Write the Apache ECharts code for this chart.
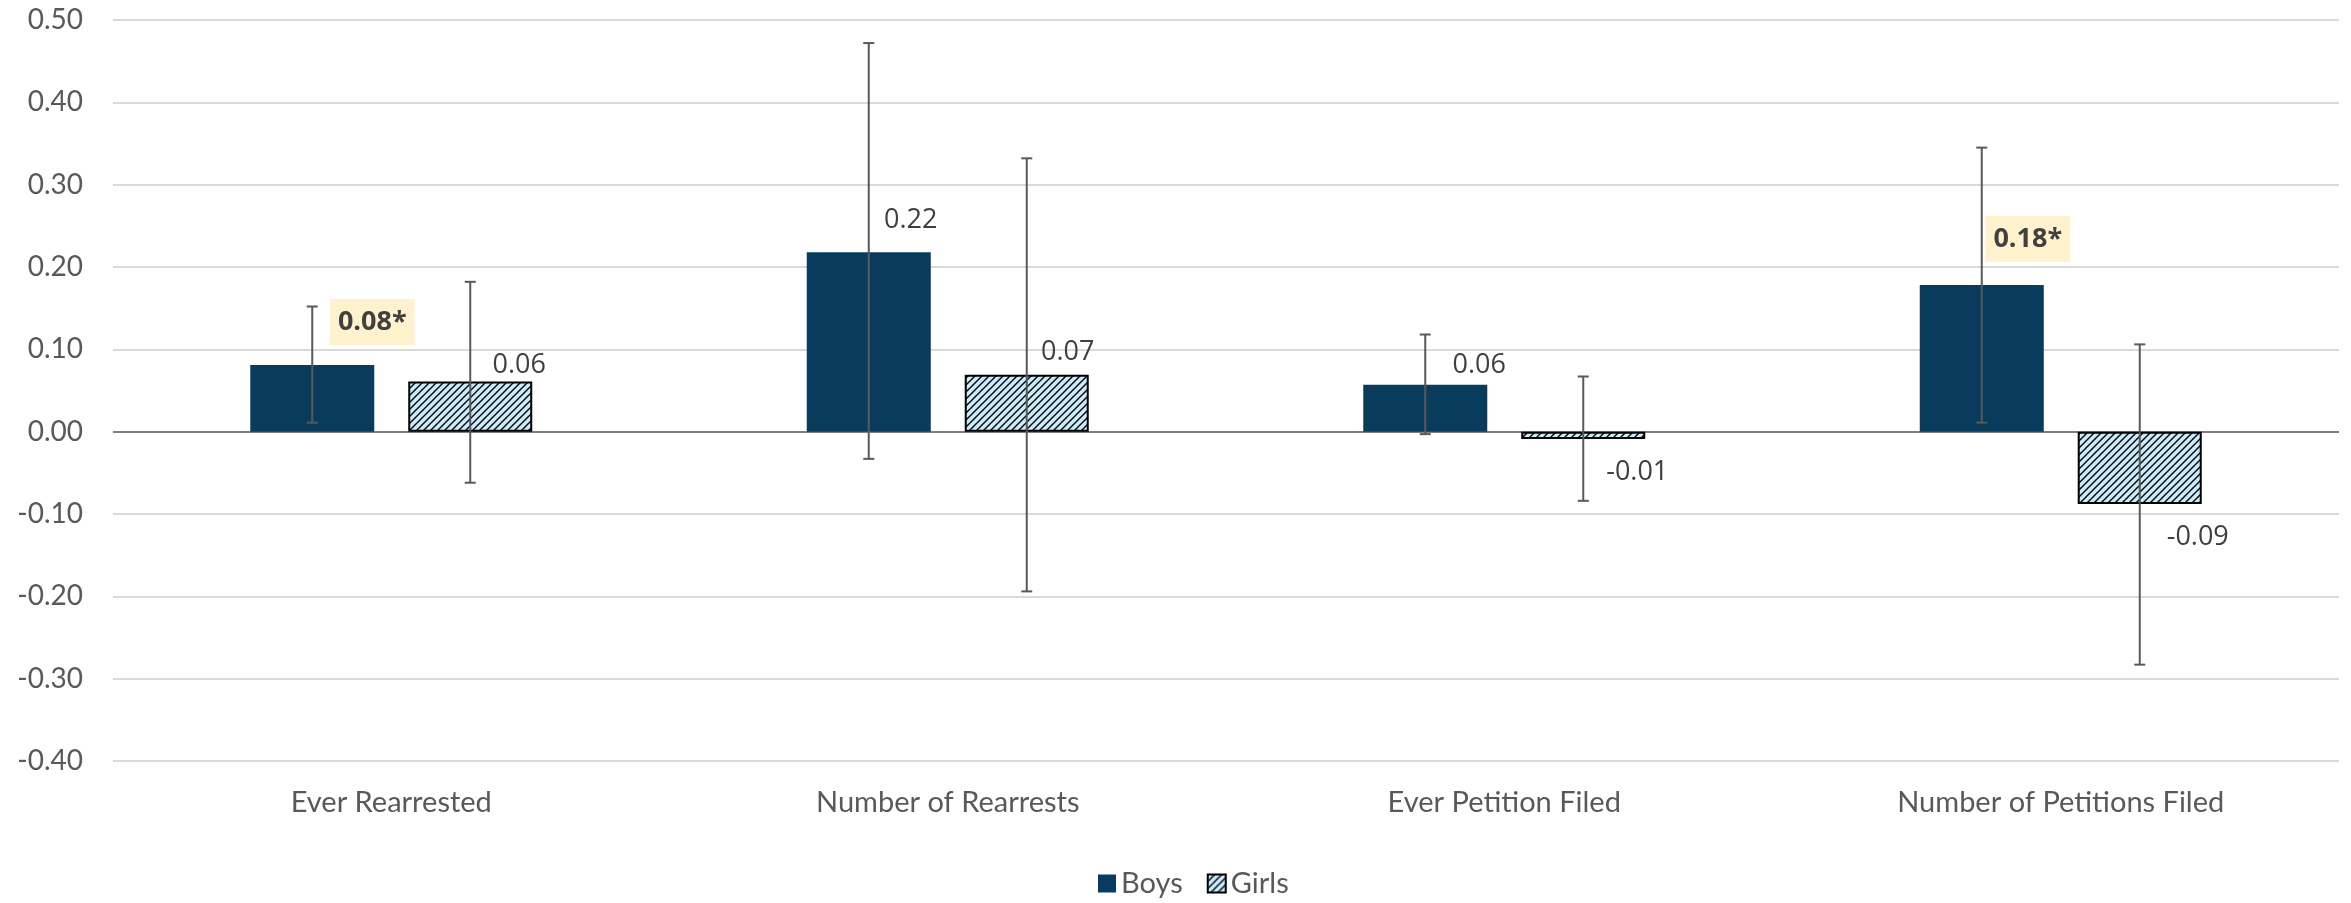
<!DOCTYPE html>
<html>
<head>
<meta charset="utf-8">
<script src="https://cdn.jsdelivr.net/npm/echarts@6/dist/echarts.min.js"></script>
<style>
html,body{margin:0;padding:0;background:#fff;}
#chart{width:2351px;height:903px;}
</style>
</head>
<body>
<div id="chart"></div>
<script>
// ---- data ----
const categories = ['Ever Rearrested', 'Number of Rearrests', 'Ever Petition Filed', 'Number of Petitions Filed'];
const seriesNames = ['Boys', 'Girls'];
const boysValues = [0.081, 0.218, 0.057, 0.178];
const girlsValues = [0.061, 0.069, -0.009, -0.088];
const boysLabels = ['0.08*', '0.22', '0.06', '0.18*'];
const girlsLabels = ['0.06', '0.07', '-0.01', '-0.09'];
const boysSignificant = [true, false, false, true];
const boysHigh = [0.152, 0.472, 0.118, 0.345];
const boysLow = [0.011, -0.033, -0.003, 0.011];
const girlsHigh = [0.182, 0.332, 0.067, 0.106];
const girlsLow = [-0.062, -0.194, -0.084, -0.283];
const yTickMin = -0.4, yTickMax = 0.5, yTickStep = 0.1;

// ---- styling ----
const BAR_W = 124, BAR_GAP = 34;
const boysLabelOffsets = [[60, -20], [42, -17], [54, -4], [46, -23]];
const girlsLabelOffsets = [[49, -1], [41, -8], [54, 18], [58, 18]];

function hatchPattern() {
  const s = 7;
  const c = document.createElement('canvas');
  c.width = s; c.height = s;
  const g = c.getContext('2d');
  g.fillStyle = '#c8ecfb';
  g.fillRect(0, 0, s, s);
  g.strokeStyle = '#000';
  g.lineWidth = 1.4;
  g.beginPath();
  g.moveTo(-1, s + 1); g.lineTo(s + 1, -1);
  g.moveTo(-1, 1); g.lineTo(1, -1);
  g.moveTo(s - 1, s + 1); g.lineTo(s + 1, s - 1);
  g.stroke();
  return c;
}
const hatch = { image: hatchPattern(), repeat: 'repeat' };

const chart = echarts.init(document.getElementById('chart'), null, { renderer: 'canvas' });

function labelFor(text, off, sig, neg) {
  const base = {
    show: true,
    position: neg ? 'bottom' : 'top',
    distance: 0,
    offset: off,
    formatter: text,
    fontFamily: 'Open Sans',
    fontSize: 27,
    lineHeight: 30,
    color: '#404040'
  };
  if (sig) {
    base.fontWeight = 'bold';
    base.backgroundColor = '#fff2cc';
    base.padding = [8, 8];
  }
  return base;
}

const boysData = boysValues.map((v, i) => ({
  value: v,
  label: labelFor(boysLabels[i], boysLabelOffsets[i], boysSignificant[i], v < 0)
}));
const girlsData = girlsValues.map((v, i) => ({
  value: v,
  label: labelFor(girlsLabels[i], girlsLabelOffsets[i], false, v < 0)
}));

function errorSeries(low, high, sideIdx) {
  return {
    type: 'custom',
    name: seriesNames[sideIdx] + ' CI',
    z: 5,
    silent: true,
    data: low.map((l, i) => [i, l, high[i]]),
    renderItem: function (params, api) {
      const i = api.value(0);
      const pLow = api.coord([i, api.value(1)]);
      const pHigh = api.coord([i, api.value(2)]);
      const shift = (BAR_W + BAR_GAP) / 2 * (sideIdx === 0 ? -1 : 1);
      const x = pLow[0] + shift;
      const cap = 5.5;
      const style = { stroke: '#595959', lineWidth: 2, fill: null };
      return {
        type: 'group',
        children: [
          { type: 'line', shape: { x1: x, y1: pHigh[1], x2: x, y2: pLow[1] }, style: style },
          { type: 'line', shape: { x1: x - cap, y1: pHigh[1], x2: x + cap, y2: pHigh[1] }, style: style },
          { type: 'line', shape: { x1: x - cap, y1: pLow[1], x2: x + cap, y2: pLow[1] }, style: style }
        ]
      };
    }
  };
}

chart.setOption({
  animation: false,
  backgroundColor: '#ffffff',
  grid: { left: 113, right: 12, top: 20, bottom: 142, containLabel: false },
  legend: {
    bottom: 0,
    left: 1093,
    data: seriesNames,
    icon: 'rect',
    itemWidth: 18,
    itemHeight: 18,
    itemGap: 24,
    textStyle: { fontFamily: 'Lato', fontSize: 29, color: '#595959', padding: [0, 0, 0, 0] }
  },
  xAxis: {
    type: 'category',
    data: categories,
    axisLine: { show: false, onZero: false },
    axisTick: { show: false },
    axisLabel: { fontFamily: 'Lato', fontSize: 29, color: '#595959', margin: 27 },
    splitLine: { show: false }
  },
  yAxis: {
    type: 'value',
    min: yTickMin,
    max: yTickMax,
    interval: yTickStep,
    axisLine: { show: false },
    axisTick: { show: false },
    axisLabel: {
      fontFamily: 'Lato', fontSize: 28, color: '#595959', margin: 30,
      formatter: v => v.toFixed(2)
    },
    splitLine: { lineStyle: { color: '#d9d9d9', width: 2 } }
  },
  series: [
    {
      name: 'Boys',
      type: 'bar',
      data: boysData,
      barWidth: BAR_W,
      barGap: (BAR_GAP / BAR_W * 100).toFixed(1) + '%',
      itemStyle: { color: '#093c5c' },
      z: 3,
      markLine: {
        silent: true,
        symbol: 'none',
        label: { show: false },
        lineStyle: { color: '#7f7f7f', width: 2, type: 'solid' },
        data: [{ yAxis: 0 }],
        z: 2
      }
    },
    {
      name: 'Girls',
      type: 'bar',
      data: girlsData,
      barWidth: BAR_W,
      itemStyle: { color: hatch, borderColor: '#000000', borderWidth: 2 },
      z: 3
    },
    errorSeries(boysLow, boysHigh, 0),
    errorSeries(girlsLow, girlsHigh, 1)
  ]
});
</script>
</body>
</html>
